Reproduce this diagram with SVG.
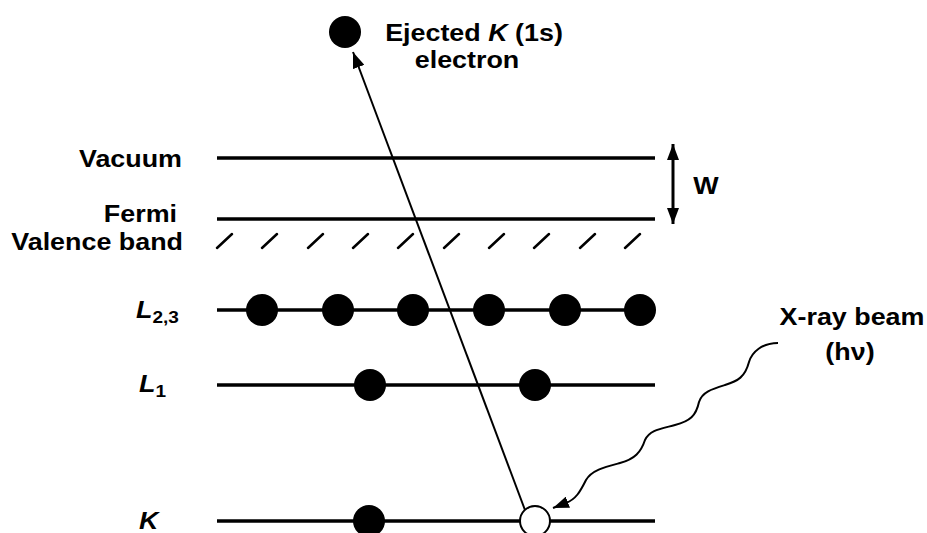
<svg xmlns="http://www.w3.org/2000/svg" width="927" height="533" viewBox="0 0 927 533">
  <style>
    .lbl { font-family: "Liberation Sans", Arial, sans-serif; font-weight: bold; font-size: 24px; fill: #000; }
    .it { font-style: italic; }
    .sub { font-size: 17px; font-style: normal; }
    .level { stroke: #000; stroke-width: 3.5; fill: none; }
    .hatch { stroke: #000; stroke-width: 2.5; stroke-linecap: round; }
    .dot { fill: #000; }
    .hole { fill: #fff; stroke: #000; stroke-width: 2; }
    .conn { stroke: #000; fill: none; }
  </style>
  <defs>
    <marker id="head" viewBox="0 0 16 12" refX="16" refY="6" markerWidth="16" markerHeight="12" markerUnits="userSpaceOnUse" orient="auto-start-reverse">
      <path d="M0,0 L16,6 L0,12 Z" fill="#000"/>
    </marker>
  </defs>
  <rect width="927" height="533" fill="#fff"/>

  <!-- energy levels -->
  <g id="vacuum">
    <line class="level" x1="217" y1="158" x2="655" y2="158"/>
    <text class="lbl" text-anchor="end" transform="translate(182,167) scale(1.12,1)">Vacuum</text>
  </g>
  <g id="fermi">
    <line class="level" x1="217" y1="219" x2="655" y2="219"/>
    <text class="lbl" text-anchor="end" transform="translate(177,222) scale(1.12,1)">Fermi</text>
  </g>
  <g id="valence-band">
    <g class="hatch">
      <line x1="217" y1="248" x2="232" y2="234"/>
      <line x1="262" y1="248" x2="277" y2="234"/>
      <line x1="308" y1="248" x2="323" y2="234"/>
      <line x1="353" y1="248" x2="368" y2="234"/>
      <line x1="398" y1="248" x2="413" y2="234"/>
      <line x1="444" y1="248" x2="459" y2="234"/>
      <line x1="489" y1="248" x2="504" y2="234"/>
      <line x1="534" y1="248" x2="549" y2="234"/>
      <line x1="580" y1="248" x2="595" y2="234"/>
      <line x1="625" y1="248" x2="640" y2="234"/>
    </g>
    <text class="lbl" text-anchor="end" transform="translate(183,250) scale(1.12,1)">Valence band</text>
  </g>
  <g id="L23">
    <line class="level" x1="217" y1="310" x2="655" y2="310"/>
    <g class="dot">
      <circle cx="262" cy="310" r="16"/>
      <circle cx="338" cy="310" r="16"/>
      <circle cx="413" cy="310" r="16"/>
      <circle cx="489" cy="310" r="16"/>
      <circle cx="565" cy="310" r="16"/>
      <circle cx="640" cy="310" r="16"/>
    </g>
    <text class="lbl it" transform="translate(136,318) scale(1.12,1)">L<tspan class="sub" dy="5">2,3</tspan></text>
  </g>
  <g id="L1">
    <line class="level" x1="217" y1="385" x2="655" y2="385"/>
    <g class="dot">
      <circle cx="370" cy="385" r="16"/>
      <circle cx="535" cy="385" r="16"/>
    </g>
    <text class="lbl it" transform="translate(139,392) scale(1.12,1)">L<tspan class="sub" dy="5">1</tspan></text>
  </g>
  <g id="K">
    <line class="level" x1="217" y1="521" x2="655" y2="521"/>
    <circle class="dot" cx="369" cy="521" r="16"/>
    <circle class="hole" cx="535" cy="521" r="15"/>
    <text class="lbl it" transform="translate(139,529) scale(1.12,1)">K</text>
  </g>
  <g id="ejected-electron">
    <circle class="dot" cx="345" cy="32" r="16"/>
    <text class="lbl" text-anchor="middle" transform="translate(474,41) scale(1.12,1)">Ejected <tspan class="it">K</tspan> (1s)</text>
    <text class="lbl" text-anchor="middle" transform="translate(467,68) scale(1.12,1)">electron</text>
  </g>
  <g id="xray-label">
    <text class="lbl" text-anchor="middle" transform="translate(852,325) scale(1.12,1)">X-ray beam</text>
    <text class="lbl" text-anchor="middle" transform="translate(850,360) scale(1.12,1)">(hν)</text>
  </g>
  <g id="work-function">
    <text class="lbl" text-anchor="middle" transform="translate(706,194) scale(1.12,1)">W</text>
  </g>

  <!-- connectors -->
  <g id="connectors">
    <line class="conn" stroke-width="2" x1="525" y1="510" x2="353" y2="52" marker-end="url(#head)"/>
    <line class="conn" stroke-width="3" x1="673" y1="144" x2="673" y2="224" marker-start="url(#head)" marker-end="url(#head)"/>
    <path class="conn" stroke-width="2" d="M778,343 C762,343 752,352 749,362 C745,377 738,381 725,385 C712,389 702,392 699,402 C696,416 690,421 675,425 C660,429 650,430 645,440 C641,452 635,459 620,463 C605,467 592,470 586,480 C580,492 576,499 566,503 L553,508" marker-end="url(#head)"/>
  </g>
</svg>
